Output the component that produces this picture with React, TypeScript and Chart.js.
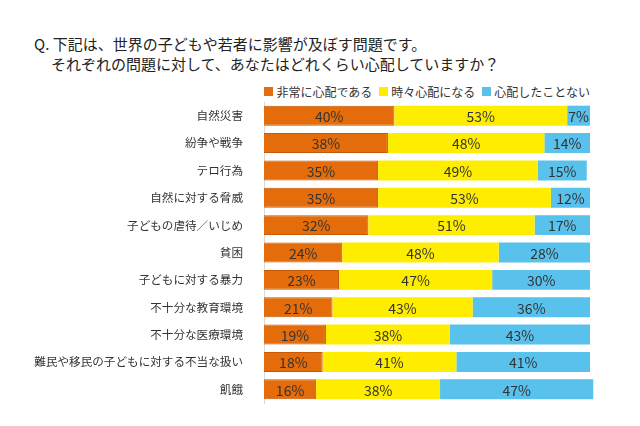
import React, { useEffect, useRef } from "react";
import { Chart, registerables } from "chart.js";

Chart.register(...registerables);

const categories = [
  "自然災害",
  "紛争や戦争",
  "テロ行為",
  "自然に対する脅威",
  "子どもの虐待／いじめ",
  "貧困",
  "子どもに対する暴力",
  "不十分な教育環境",
  "不十分な医療環境",
  "難民や移民の子どもに対する不当な扱い",
  "飢餓",
];
const seriesNames = ["非常に心配である", "時々心配になる", "心配したことない"];
const seriesColors = ["#E46C0A", "#FFED00", "#58C1EC"];
const veryWorried = [40, 38, 35, 35, 32, 24, 23, 21, 19, 18, 16];
const sometimesWorried = [53, 48, 49, 53, 51, 48, 47, 43, 38, 41, 38];
const neverWorried = [7, 14, 15, 12, 17, 28, 30, 36, 43, 41, 47];
const titleLines = [
  "Q. 下記は、世界の子どもや若者に影響が及ぼす問題です。",
  "それぞれの問題に対して、あなたはどれくらい心配していますか？",
];

const FONT = "'Noto Sans CJK JP', 'Noto Sans', sans-serif";

const dataLabelPlugin = {
  id: "dataLabels",
  afterDatasetsDraw(chart: any) {
    const ctx = chart.ctx;
    ctx.save();
    ctx.font = `14px ${FONT}`;
    ctx.fillStyle = "#333333";
    ctx.textAlign = "center";
    ctx.textBaseline = "middle";
    chart.data.datasets.forEach((ds: any, di: number) => {
      const meta = chart.getDatasetMeta(di);
      meta.data.forEach((bar: any, i: number) => {
        const cx = (bar.x + bar.base) / 2;
        ctx.fillText(`${ds.data[i]}%`, cx, bar.y + 1);
      });
    });
    ctx.restore();
  },
};

export default function App() {
  const ref = useRef<HTMLCanvasElement>(null);
  useEffect(() => {
    if (!ref.current) return;
    const chart = new Chart(ref.current, {
      type: "bar",
      data: {
        labels: categories,
        datasets: [
          {
            label: seriesNames[0],
            data: veryWorried,
            backgroundColor: seriesColors[0],
            borderColor: "#C65A08",
            borderWidth: 1,
            clip: false as any,
          },
          {
            label: seriesNames[1],
            data: sometimesWorried,
            backgroundColor: seriesColors[1],
            borderWidth: 0,
            clip: false as any,
          },
          {
            label: seriesNames[2],
            data: neverWorried,
            backgroundColor: seriesColors[2],
            borderWidth: 0,
            clip: false as any,
          },
        ],
      },
      options: {
        indexAxis: "y",
        animation: false,
        responsive: false,
        maintainAspectRatio: false,
        datasets: { bar: { categoryPercentage: 1, barPercentage: 0.73 } },
        layout: { padding: { top: 102, right: 50, bottom: 23, left: 0 } },
        scales: {
          x: {
            stacked: true,
            min: 0,
            max: 100,
            display: false,
          },
          y: {
            stacked: true,
            grid: { display: false },
            border: { display: true, color: "#D9D9D9", width: 1 },
            ticks: {
              color: "#333333",
              font: { family: FONT, size: 11.6 },
              padding: 13,
              autoSkip: false,
            },
            afterFit: (scale: any) => {
              scale.width = 264;
            },
          },
        },
        plugins: {
          legend: { display: false },
          tooltip: { enabled: false },
          title: { display: false },
        },
      },
      plugins: [dataLabelPlugin],
    });
    return () => chart.destroy();
  }, []);

  return (
    <div
      style={{
        position: "fixed",
        left: 0,
        top: 0,
        width: 640,
        height: 426,
        background: "#ffffff",
      }}
    >
      <div
        style={{
          position: "absolute",
          left: 34,
          top: 34,
          fontFamily: FONT,
          fontSize: 15,
          lineHeight: "20px",
          color: "#222222",
          whiteSpace: "nowrap",
        }}
      >
        <div>{titleLines[0]}</div>
        <div style={{ paddingLeft: 17 }}>{titleLines[1]}</div>
      </div>
      <div
        style={{
          position: "absolute",
          right: 50,
          top: 83,
          height: 16,
          display: "flex",
          alignItems: "center",
          fontFamily: FONT,
          fontSize: 12,
          color: "#333333",
          whiteSpace: "nowrap",
        }}
      >
        {seriesNames.map((name, i) => (
          <div
            key={name}
            style={{
              display: "flex",
              alignItems: "center",
              marginLeft: i === 0 ? 0 : 7,
            }}
          >
            <span
              style={{
                display: "inline-block",
                width: 9,
                height: 9,
                background: seriesColors[i],
                marginRight: 3,
              }}
            />
            <span>{name}</span>
          </div>
        ))}
      </div>
      <canvas
        ref={ref}
        width={640}
        height={426}
        style={{ position: "absolute", left: 0, top: 0 }}
      />
    </div>
  );
}
